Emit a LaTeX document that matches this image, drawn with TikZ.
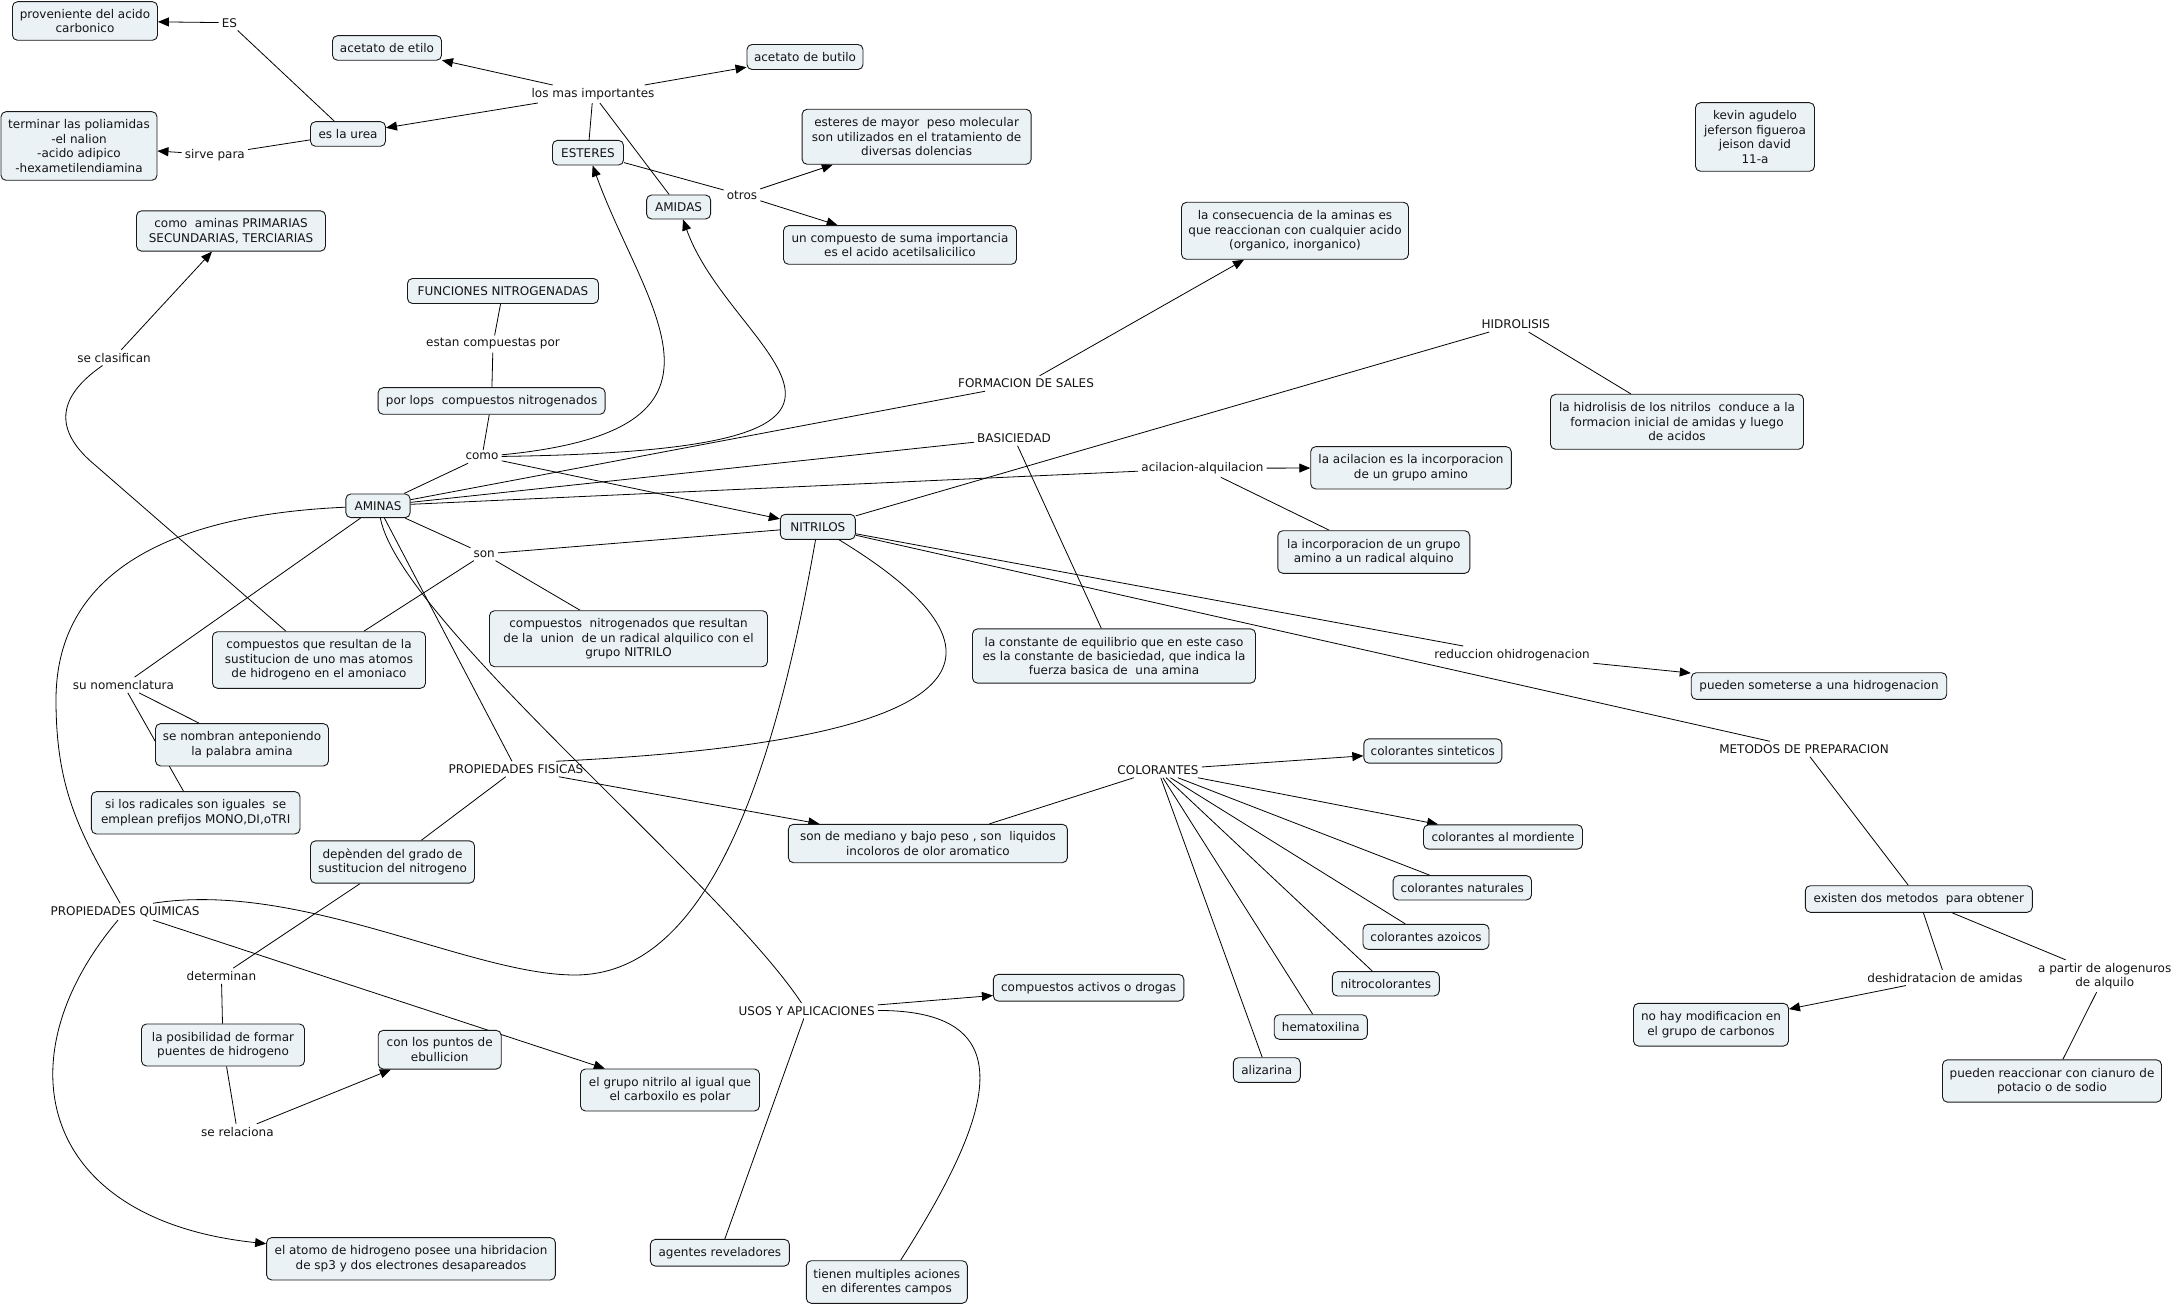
\documentclass[tikz,border=0pt]{standalone}
\usepackage{fontspec}
\newfontfamily\vf{DejaVu Sans}
\usetikzlibrary{arrows.meta,backgrounds,calc}
\definecolor{bfill}{RGB}{235,242,245}
\definecolor{tcol}{RGB}{20,20,20}
\begin{document}
\begin{tikzpicture}[x=1pt,y=-1pt,
  every node/.style={font=\vf\fontsize{12}{14.4}\selectfont, text=tcol},
  bx/.style={draw=black!90, line width=0.9pt, rounded corners=5pt, fill=bfill, align=center, inner sep=2pt},
  wh/.style 2 args={minimum width=#1pt, minimum height=#2pt},
  lb/.style={align=center, inner sep=3pt},
  cn/.style={line width=0.8pt, draw=black},
  ar/.style={cn, -{Triangle[length=11pt,width=9pt]}}]
\useasboundingbox (0,0) rectangle (2180,1305);

% ---- boxes
\node[bx,wh={145}{38.6}] (prov) at (85,21) {proveniente del acido\\carbonico};
\node[bx,wh={109}{24.6}] (etilo) at (387,48) {acetato de etilo};
\node[bx,wh={156}{68.6}] (term) at (79,146) {terminar las poliamidas\\-el nalion\\-acido adipico\\-hexametilendiamina};
\node[bx,wh={75}{24.6}] (urea) at (348,134) {es la urea};
\node[bx,wh={189}{40.3}] (clas) at (231,231) {como~ aminas PRIMARIAS\\SECUNDARIAS, TERCIARIAS};
\node[bx,wh={191}{25}] (func) at (503,291) {FUNCIONES NITROGENADAS};
\node[bx,wh={227}{26.6}] (porlops) at (491.6,401) {por lops~ compuestos nitrogenados};
\node[bx,wh={116}{25}] (butilo) at (805,57) {acetato de butilo};
\node[bx,wh={71}{24.7}] (esteres) at (588,152.7) {ESTERES};
\node[bx,wh={64}{24}] (amidas) at (678.6,207) {AMIDAS};
\node[bx,wh={229}{55}] (mayor) at (916.6,136.8) {esteres de mayor~ peso molecular\\son utilizados en el tratamiento de\\diversas dolencias};
\node[bx,wh={233}{38.6}] (suma) at (900,245) {un compuesto de suma importancia\\es el acido acetilsalicilico};
\node[bx,wh={227}{57}] (consec) at (1295,230.8) {la consecuencia de la aminas es\\que reaccionan con cualquier acido\\(organico, inorganico)};
\node[bx,wh={253}{55}] (hidbox) at (1677,421.8) {la hidrolisis de los nitrilos~ conduce a la\\formacion inicial de amidas y luego\\de acidos};
\node[bx,wh={119}{68.6}] (kevin) at (1755,137) {kevin agudelo\\jeferson figueroa\\jeison david\\11-a};
\node[bx,wh={64.3}{23.7}] (aminas) at (378,505.8) {AMINAS};
\node[bx,wh={173}{42.3}] (nombran) at (242,744.8) {se nombran anteponiendo\\la palabra amina};
\node[bx,wh={208.6}{42.3}] (radic) at (195.7,812.8) {si los radicales son iguales~ se\\emplean prefijos MONO,DI,oTRI};
\node[bx,wh={213}{56.6}] (cqr) at (319,660) {compuestos que resultan de la\\sustitucion de uno mas atomos\\de hidrogeno en el amoniaco};
\node[bx,wh={164}{42.3}] (depen) at (392.5,862) {depènden del grado de\\sustitucion del nitrogeno};
\node[bx,wh={75}{25}] (nitr) at (817.8,526.8) {NITRILOS};
\node[bx,wh={278}{56}] (cnit) at (628.5,638.7) {compuestos~ nitrogenados que resultan\\de la~ union~ de un radical alquilico con el\\grupo NITRILO};
\node[bx,wh={283}{54.3}] (const) at (1114,656) {la constante de equilibrio que en este caso\\es la constante de basiciedad, que indica la\\fuerza basica de~ una amina};
\node[bx,wh={279}{38.4}] (medi) at (927.9,843.5) {son de mediano y bajo peso , son~ liquidos\\incoloros de olor aromatico};
\node[bx,wh={200.6}{42.3}] (acil) at (1411,467.8) {la acilacion es la incorporacion\\de un grupo amino};
\node[bx,wh={192}{42.6}] (incorp) at (1373.8,552) {la incorporacion de un grupo\\amino a un radical alquino};
\node[bx,wh={255.5}{26.6}] (hidrog) at (1819,686) {pueden someterse a una hidrogenacion};
\node[bx,wh={138}{24.3}] (sint) at (1432.8,751) {colorantes sinteticos};
\node[bx,wh={159}{24.3}] (mord) at (1503,837) {colorantes al mordiente};
\node[bx,wh={138.4}{24.3}] (natur) at (1462.3,887.8) {colorantes naturales};
\node[bx,wh={126}{25}] (azoic) at (1426,936.8) {colorantes azoicos};
\node[bx,wh={107}{24.3}] (nitroc) at (1385.8,983.8) {nitrocolorantes};
\node[bx,wh={93.2}{24.6}] (hemat) at (1320.8,1027) {hematoxilina};
\node[bx,wh={67}{24.6}] (aliz) at (1266.8,1070) {alizarina};
\node[bx,wh={190.5}{26.7}] (drogas) at (1088.6,987.7) {compuestos activos o drogas};
\node[bx,wh={139}{26.7}] (agentes) at (719.9,1252.7) {agentes reveladores};
\node[bx,wh={161}{42.6}] (tienen) at (886.8,1282) {tienen multiples aciones\\en diferentes campos};
\node[bx,wh={179}{42}] (egn) at (670,1090) {el grupo nitrilo al igual que\\el carboxilo es polar};
\node[bx,wh={288.8}{42.3}] (atomo) at (411,1258.8) {el atomo de hidrogeno posee una hibridacion\\de sp3 y dos electrones desapareados};
\node[bx,wh={163}{42}] (posib) at (223,1045) {la posibilidad de formar\\puentes de hidrogeno};
\node[bx,wh={123}{38.7}] (puntos) at (439.7,1049.7) {con los puntos de\\ebullicion};
\node[bx,wh={227}{26.6}] (existen) at (1918.8,899) {existen dos metodos~ para obtener};
\node[bx,wh={155}{42.7}] (nohay) at (1711,1024.7) {no hay modificacion en\\el grupo de carbonos};
\node[bx,wh={219}{42.3}] (reacc) at (2052,1081) {pueden reaccionar con cianuro de\\potacio o de sodio};

% ---- linking phrases
\node[lb] (es) at (229.4,22.7) {ES};
\node[lb] (sirve) at (214.8,154.7) {sirve para};
\node[lb] (losmas) at (593,94) {los mas importantes};
\node[lb] (secl) at (114,357.7) {se clasifican};
\node[lb] (estan) at (493,344) {estan compuestas por};
\node[lb] (otros) at (742,195) {otros};
\node[lb] (como) at (482,456.7) {como};
\node[lb] (formac) at (1026,383.5) {FORMACION DE SALES};
\node[lb] (basic) at (1014,438) {BASICIEDAD};
\node[lb] (hidro) at (1515.8,324.3) {HIDROLISIS};
\node[lb] (acilal) at (1202.4,468.3) {acilacion-alquilacion};
\node[lb] (son) at (484.2,554) {son};
\node[lb] (nomen) at (123.4,685) {su nomenclatura};
\node[lb] (pf) at (516,769) {PROPIEDADES FISICAS};
\node[lb] (pq) at (125,911.7) {PROPIEDADES QUIMICAS};
\node[lb] (determ) at (221.4,976) {determinan};
\node[lb] (serel) at (237.4,1131.7) {se relaciona};
\node[lb] (colo) at (1158,770) {COLORANTES};
\node[lb] (reduc) at (1512,655) {reduccion ohidrogenacion};
\node[lb] (metod) at (1804,749) {METODOS DE PREPARACION};
\node[lb] (usos) at (806.6,1010.7) {USOS Y APLICACIONES};
\node[lb] (deshid) at (1945,977.7) {deshidratacion de amidas};
\node[lb] (apartir) at (2104.7,976) {a partir de alogenuros\\de alquilo};

\begin{pgfonlayer}{background}
\fill[white] (0,0) rectangle (2180,1305);
% top left
\draw[ar] (es) -- (prov);
\draw[cn] (urea) -- (es);
\draw[cn] (urea) -- (sirve);
\draw[ar] (sirve) -- (term);
\draw[ar] (losmas) -- (etilo);
\draw[ar] (losmas) -- (urea);
\draw[ar] (losmas) -- (butilo);
\draw[cn] (losmas) -- (esteres);
\draw[cn] (losmas) -- (amidas);
\draw[cn] (esteres) -- (otros);
\draw[ar] (otros) -- (mayor);
\draw[ar] (otros) -- (suma);
\draw[ar] (secl) -- (clas);
\draw[cn] (secl) .. controls (45,405) and (65,440) .. (95,465) -- (cqr);
\draw[cn] (func) -- (estan);
\draw[cn] (estan) -- (porlops);
\draw[cn] (porlops) -- (como);
\draw[cn] (como) -- (aminas);
\draw[ar] (como) -- (nitr);
\draw[ar] (como) .. controls (760,430) and (645,310) .. (esteres);
\draw[ar] (como) .. controls (965,450) and (732,357) .. (amidas);
% aminas
\draw[cn] (aminas) -- (formac);
\draw[ar] (formac) -- (consec);
\draw[cn] (aminas) -- (basic);
\draw[cn] (basic) -- (const);
\draw[cn] (aminas) -- (acilal);
\draw[ar] (acilal) -- (acil);
\draw[cn] (acilal) -- (incorp);
\draw[cn] (aminas) -- (son);
\draw[cn] (son) -- (cqr);
\draw[cn] (son) -- (nitr);
\draw[cn] (son) -- (cnit);
\draw[cn] (aminas) -- (nomen);
\draw[cn] (nomen) -- (nombran);
\draw[cn] (nomen) -- (radic);
\draw[cn] (aminas) -- (pf);
\draw[cn] (aminas) .. controls (212,513) and (56,550) .. (56,700) .. controls (56,790) and (80,833) .. (pq);
\draw[cn] (aminas) .. controls (400,620) and (720,880) .. (usos);
% nitrilos
\draw[cn] (nitr) -- (hidro);
\draw[cn] (hidro) -- (hidbox);
\draw[cn] (nitr) -- (reduc);
\draw[ar] (reduc) -- (hidrog);
\draw[cn] (nitr) -- (metod);
\draw[cn] (metod) -- (existen);
\draw[cn] (existen) -- (deshid);
\draw[ar] (deshid) -- (nohay);
\draw[cn] (existen) -- (apartir);
\draw[cn] (apartir) -- (reacc);
\draw[cn] (nitr) .. controls (770,800) and (700,975) .. (575,975) .. controls (470,975) and (300,880) .. ([xshift=28pt]pq.north);
\draw[cn] (nitr) .. controls (1020,650) and (1000,740) .. ([xshift=40pt]pf.north);
% propiedades
\draw[cn] (pf) -- (depen);
\draw[ar] (pf) -- (medi);
\draw[cn] (depen) -- (determ);
\draw[cn] (determ) -- (posib);
\draw[cn] (posib) -- (serel);
\draw[ar] (serel) -- (puntos);
\draw[ar] ([xshift=28pt]pq.south) -- (egn);
\draw[ar] ([xshift=-7pt]pq.south) .. controls (0,1060) and (40,1220) .. (atomo);
% colorantes
\draw[cn] (medi) -- (colo);
\draw[ar] (colo) -- (sint);
\draw[ar] (colo) -- (mord);
\draw[cn] (colo) -- (natur);
\draw[cn] (colo) -- (azoic);
\draw[cn] (colo) -- (nitroc);
\draw[cn] (colo) -- (hemat);
\draw[cn] (colo) -- (aliz);
% usos
\draw[ar] (usos) -- (drogas);
\draw[cn] (usos) -- (agentes);
\draw[cn] (usos) .. controls (1030,1010) and (990,1120) .. (tienen);
\end{pgfonlayer}
\end{tikzpicture}
\end{document}
